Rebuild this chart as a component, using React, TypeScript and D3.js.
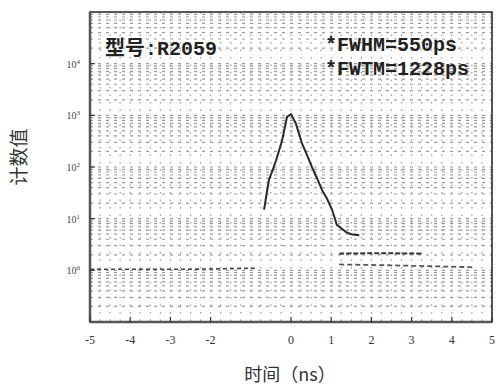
import React from 'react';
import * as d3 from 'd3';

// time (ns) and counts
const pulseTime = [-0.67, -0.62, -0.55, -0.45, -0.37, -0.22, -0.1, 0, 0.12, 0.27, 0.4, 0.52, 0.65, 0.77, 0.9, 1.02, 1.14, 1.25, 1.37, 1.5, 1.7];
const pulseCount = [15, 26, 56, 90, 135, 330, 930, 1050, 700, 290, 170, 100, 60, 36, 24, 15, 7.6, 6.5, 5.5, 5, 4.8];

const baseTime = [-5, -2.5, -0.9];
const baseCount = [1.05, 1.05, 1.1];
const tailHighTime = [1.2, 2.2, 3.25];
const tailHighCount = [2.1, 2.15, 2.1];
const tailLowTime = [1.2, 2.5, 4.5];
const tailLowCount = [1.3, 1.25, 1.15];

const xTicks = [-5, -4, -3, -2, 0, 1, 2, 3, 4, 5];
const yTicks = [1, 10, 100, 1000, 10000];
const yTickExp = ['0', '1', '2', '3', '4'];

const W = 496;
const H = 387;
const left = 90;
const right = 492;
const top = 12;
const bottom = 322;

export default function App() {
  const x = d3.scaleLinear().domain([-5, 5]).range([left, right]);
  const y = d3.scaleLog().domain([0.1, 100000]).range([bottom, top]);

  const line = d3
    .line<[number, number]>()
    .x((d) => x(d[0]))
    .y((d) => y(d[1]));

  const pulse = pulseTime.map((t, i) => [t, pulseCount[i]] as [number, number]);
  const base = baseTime.map((t, i) => [t, baseCount[i]] as [number, number]);
  const tailHigh = tailHighTime.map((t, i) => [t, tailHighCount[i]] as [number, number]);
  const tailLow = tailLowTime.map((t, i) => [t, tailLowCount[i]] as [number, number]);

  // dotted scan texture: minor grid
  const gridX = d3.range(-5, 5.001, 0.25);
  const gridY: number[] = [];
  for (let e = -1; e < 5; e++) {
    for (let m = 1; m < 10; m += 1) gridY.push(m * Math.pow(10, e));
  }

  const mono = '"Liberation Mono", "DejaVu Sans Mono", monospace';
  const cjk = '"Noto Sans CJK SC", "Noto Sans", sans-serif';

  return (
    <svg width={W} height={H} style={{ position: 'absolute', left: 0, top: 0, background: '#fff' }}>
      <g stroke="#9a9a9a" strokeWidth={1.2}>
        {gridY.map((v, i) => (
          <line key={'gy' + i} x1={left} x2={right} y1={y(v)} y2={y(v)} strokeDasharray="3 5" />
        ))}
        {gridX.map((v, i) => (
          <line key={'gx' + i} x1={x(v)} x2={x(v)} y1={top} y2={bottom} strokeDasharray="1.5 6" />
        ))}
      </g>

      {/* frame */}
      <rect x={left} y={top} width={right - left} height={bottom - top} fill="none" stroke="#222" strokeWidth={1.5} />
      <line x1={left} x2={right} y1={bottom} y2={bottom} stroke="#555" strokeWidth={2.5} />
      <line x1={left} x2={left} y1={top} y2={bottom} stroke="#555" strokeWidth={2.5} />

      {xTicks.map((t) => (
        <g key={'xt' + t}>
          <line x1={x(t)} x2={x(t)} y1={bottom} y2={bottom - 5} stroke="#333" strokeWidth={1.2} />
          <text x={x(t)} y={bottom + 22} textAnchor="middle" fontSize={12} fill="#333" fontFamily="serif">
            {t}
          </text>
        </g>
      ))}
      {yTicks.map((v, i) => (
        <g key={'yt' + v}>
          <line x1={left} x2={left + 5} y1={y(v)} y2={y(v)} stroke="#333" strokeWidth={1.2} />
          <text x={left - 10} y={y(v) + 4} textAnchor="end" fontSize={10} fill="#444" fontFamily="serif">
            10
            <tspan dy={-4} fontSize={7}>
              {yTickExp[i]}
            </tspan>
          </text>
        </g>
      ))}

      {/* data */}
      <path d={line(base) || ''} fill="none" stroke="#444" strokeWidth={1.6} strokeDasharray="4 3" />
      <path d={line(tailHigh) || ''} fill="none" stroke="#333" strokeWidth={2} strokeDasharray="5 2" />
      <path d={line(tailLow) || ''} fill="none" stroke="#555" strokeWidth={1.8} strokeDasharray="5 3" />
      <path d={line(pulse) || ''} fill="none" stroke="#2a2a2a" strokeWidth={2} />

      {/* annotations */}
      <text x={105} y={55} fontSize={20} fill="#222" fontWeight={600}>
        <tspan fontFamily={cjk}>型号</tspan>
        <tspan fontFamily={mono}>:R2059</tspan>
      </text>
      <text x={325} y={51} fontSize={20} fill="#222" fontFamily={mono} fontWeight={600}>
        *FWHM=550ps
      </text>
      <text x={325} y={75} fontSize={20} fill="#222" fontFamily={mono} fontWeight={600}>
        *FWTM=1228ps
      </text>

      <text
        transform={`translate(26, ${157}) rotate(-90)`}
        textAnchor="middle"
        fontSize={19}
        fill="#333"
        fontFamily={cjk}
      >
        计数值
      </text>
      <text x={290} y={381} textAnchor="middle" fontSize={18} fill="#333" fontFamily={cjk}>
        时间（ns）
      </text>
    </svg>
  );
}
